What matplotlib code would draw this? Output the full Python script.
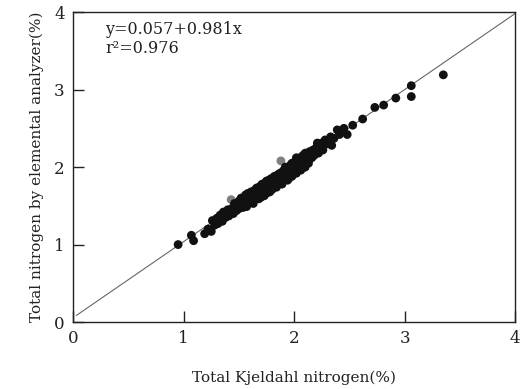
import numpy as np
import matplotlib
matplotlib.use('Agg')
import matplotlib.pyplot as plt

# Kjeldahl N (x) vs elemental analyzer N (y)
kjeldahl = [0.95, 1.07, 1.09, 1.19, 1.22, 1.25, 1.26, 1.28, 1.30, 1.31, 1.33, 1.35,
            1.36, 1.38, 1.40, 1.41, 1.44, 1.45, 1.47, 1.48, 1.50, 1.51, 1.52, 1.53,
            1.55, 1.56, 1.57, 1.58, 1.59, 1.60, 1.61, 1.62, 1.63, 1.64, 1.65, 1.66,
            1.67, 1.68, 1.69, 1.70, 1.71, 1.72, 1.73, 1.74, 1.75, 1.76, 1.77, 1.78,
            1.79, 1.80, 1.81, 1.82, 1.83, 1.84, 1.85, 1.86, 1.87, 1.88, 1.89, 1.90,
            1.91, 1.92, 1.93, 1.94, 1.95, 1.96, 1.97, 1.98, 1.99, 2.00, 2.01, 2.02,
            2.03, 2.04, 2.05, 2.06, 2.07, 2.08, 2.09, 2.10, 2.11, 2.12, 2.13, 2.14,
            2.16, 2.17, 2.18, 2.20, 2.21, 2.22, 2.24, 2.26, 2.28, 2.30, 2.33, 2.34,
            2.36, 2.39, 2.41, 2.45, 2.48, 2.53, 2.62, 2.73, 2.81, 2.92, 3.06, 3.06,
            3.35,
            1.46, 1.49, 1.54, 1.57, 1.60, 1.63, 1.66, 1.69, 1.72, 1.74, 1.77, 1.79,
            1.82, 1.84, 1.86, 1.89, 1.91, 1.93, 1.95, 1.97, 1.99, 2.01, 2.03, 2.05,
            2.07, 2.09, 2.11, 2.13, 2.15, 2.19, 2.23, 2.25, 1.78, 1.83, 1.95, 2.00,
            2.08, 1.70, 1.85, 1.92, 2.02, 1.58, 1.75, 1.98, 2.10, 1.52]
analyzer = [1.00, 1.12, 1.05, 1.14, 1.20, 1.17, 1.31, 1.25, 1.34, 1.27, 1.38, 1.30,
            1.42, 1.35, 1.45, 1.37, 1.47, 1.40, 1.52, 1.44, 1.56, 1.47, 1.59, 1.50,
            1.55, 1.64, 1.49, 1.58, 1.65, 1.55, 1.68, 1.60, 1.53, 1.70, 1.63, 1.73,
            1.66, 1.59, 1.75, 1.68, 1.78, 1.70, 1.63, 1.80, 1.73, 1.67, 1.83, 1.76,
            1.85, 1.71, 1.79, 1.88, 1.80, 1.74, 1.90, 1.83, 1.92, 1.86, 1.78, 1.95,
            1.88, 1.98, 1.91, 1.83, 2.00, 1.93, 2.03, 1.88, 1.96, 2.06, 1.99, 1.92,
            2.09, 2.02, 2.12, 1.96, 2.05, 2.15, 2.08, 2.00, 2.17, 2.10, 2.05, 2.20,
            2.12, 2.22, 2.15, 2.25, 2.31, 2.18, 2.28, 2.22, 2.35, 2.30, 2.39, 2.28,
            2.37, 2.48, 2.42, 2.50, 2.42, 2.54, 2.62, 2.77, 2.80, 2.89, 3.05, 2.91,
            3.19,
            1.53, 1.46, 1.48, 1.61, 1.65, 1.62, 1.64, 1.67, 1.76, 1.69, 1.73, 1.79,
            1.83, 1.85, 1.88, 1.92, 1.84, 1.96, 1.91, 1.97, 2.03, 2.06, 1.97, 2.03,
            2.10, 2.03, 2.08, 2.13, 2.17, 2.21, 2.21, 2.31, 1.68, 1.76, 1.85, 1.94,
            1.99, 1.61, 1.78, 2.00, 2.12, 1.66, 1.82, 2.05, 2.18, 1.60]
# two lighter points
gray_x = [1.43, 1.88]
gray_y = [1.58, 2.08]

intercept, slope = 0.057, 0.981

plt.rcParams['font.family'] = ['DejaVu Serif']
fig = plt.figure(figsize=(5.30, 3.89), dpi=100)
ax = fig.add_axes([0.138, 0.172, 0.834, 0.797])

xl = np.array([0.03, 4.0])
ax.plot(xl, intercept + slope * xl, color='#666666', lw=0.8, zorder=1)
ax.scatter(gray_x, gray_y, s=40, color='#808080', edgecolors='none', zorder=2)
ax.scatter(kjeldahl, analyzer, s=40, color='#111111', edgecolors='none', zorder=3)

ax.set_xlim(0, 4)
ax.set_ylim(0, 4)
ax.set_xticks([0, 1, 2, 3, 4])
ax.set_yticks([0, 1, 2, 3, 4])
ax.tick_params(direction='in', length=8, width=1, labelsize=12, pad=6,
               colors='#222222')
for s in ax.spines.values():
    s.set_linewidth(1)
    s.set_color('#222222')

ax.text(0.29, 3.77, 'y=0.057+0.981x', fontsize=11.5, va='center', color='#222222')
ax.text(0.29, 3.53, 'r²=0.976', fontsize=11.5, va='center', color='#222222')

ax.set_xlabel('Total Kjeldahl nitrogen(%)', fontsize=11, labelpad=17, color='#222222')
ax.set_ylabel('Total nitrogen by elemental analyzer(%)', fontsize=11, labelpad=7,
              color='#222222')

fig.savefig('out.png', dpi=100)
